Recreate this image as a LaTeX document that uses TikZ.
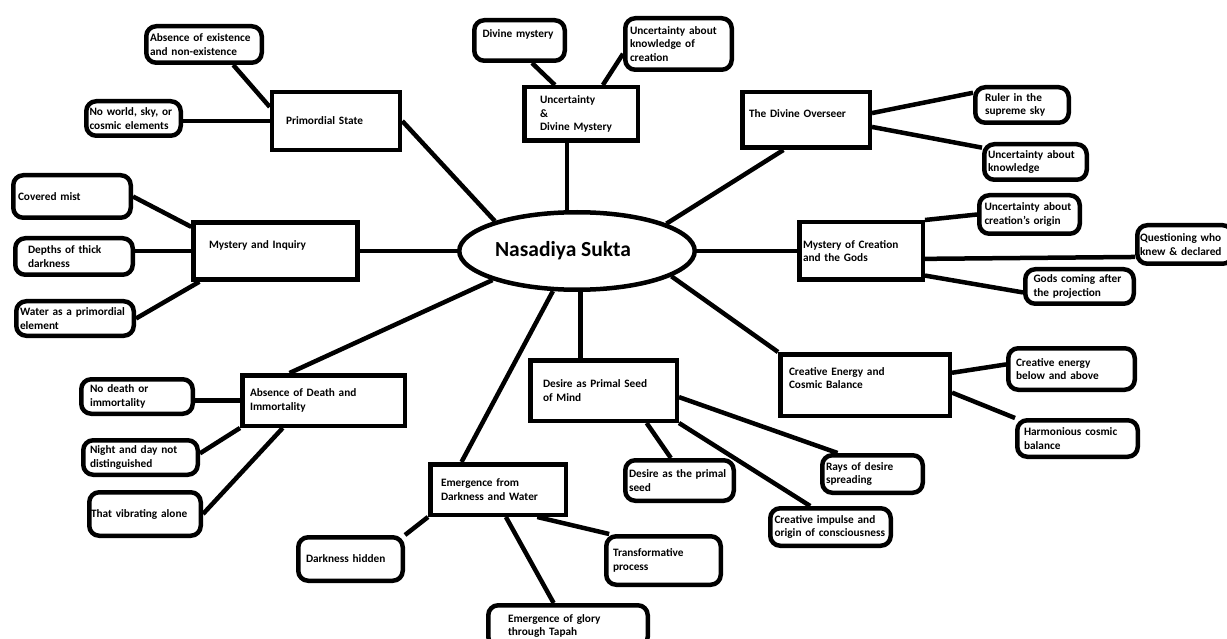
\documentclass[tikz,border=0pt]{standalone}
\usepackage{fontspec}
\setmainfont{Carlito}
\usetikzlibrary{shapes.geometric,calc}
\tikzset{
  mainbox/.style={draw, line width=4.5pt, align=left, inner xsep=0pt, inner ysep=2pt,
    font=\bfseries\fontsize{11.3}{13.7}\selectfont},
  leafbox/.style={mainbox, rounded corners=10pt},
  hub/.style={ellipse, draw, line width=4.5pt, inner sep=0pt,
    font=\bfseries\fontsize{21.5}{24}\selectfont},
  link/.style={line width=4.5pt}
}

\begin{document}
\begin{tikzpicture}[x=1pt,y=-1pt]
        \clip (0,0) rectangle (1227,639);
        \node[hub, minimum width=235.5pt, minimum height=77.5pt] (nas) at (577,251) {Nasadiya Sukta\hspace*{28pt}};
        % main topics
        \node[mainbox, minimum width=128pt, minimum height=58pt, text width=100pt] (prim) at (336,121) {Primordial State};
        \node[mainbox, minimum width=164pt, minimum height=57pt, text width=133pt] (myst) at (275.5,251) {Mystery and Inquiry\\ \mbox{}};
        \node[mainbox, minimum width=113.5pt, minimum height=53.5pt, text width=82pt] (udm) at (581,114) {Uncertainty\\\&\\ Divine Mystery};
        \node[mainbox, minimum width=127.5pt, minimum height=55.5pt, text width=114pt] (dov) at (806,120) {The Divine Overseer\\ \mbox{}};
        \node[mainbox, minimum width=123.5pt, minimum height=57.5pt, text width=116pt] (moc) at (861,251) {Mystery of Creation\\and the Gods};
        \node[mainbox, minimum width=169.5pt, minimum height=61.5pt, text width=152pt] (ceb) at (865,385) {Creative Energy and\\Cosmic Balance\\ \mbox{}};
        \node[mainbox, minimum width=146.5pt, minimum height=60.5pt, text width=121pt] (des) at (603.5,390.5) {Desire as Primal Seed\\of Mind};
        \node[mainbox, minimum width=135.5pt, minimum height=50.5pt, text width=114pt] (emg) at (498,489.5) {Emergence from\\Darkness and Water};
        \node[mainbox, minimum width=162.5pt, minimum height=50.5pt, text width=147pt] (abs) at (323.5,400.5) {Absence of Death and\\Immortality};
        % leaves
        \node[leafbox, minimum width=115.5pt, minimum height=36.5pt, text width=108pt] (nonex) at (204,44.5) {Absence of existence\\and non-existence};
        \node[leafbox, minimum width=94.5pt, minimum height=34.5pt, text width=88pt] (noworld) at (133.5,118.5) {No world, sky, or\\cosmic elements};
        \node[leafbox, minimum width=117.5pt, minimum height=42.5pt, text width=108pt] (mist) at (72,196.5) {Covered mist};
        \node[leafbox, minimum width=117.5pt, minimum height=36.5pt, text width=92pt] (depths) at (74,256.5) {Depths of thick\\darkness};
        \node[leafbox, minimum width=117.5pt, minimum height=34.5pt, text width=110pt] (water) at (75,318.5) {Water as a primordial\\element};
        \node[leafbox, minimum width=90.5pt, minimum height=40.5pt, text width=74pt] (divmys) at (519.5,40.5) {Divine mystery\\ \mbox{}};
        \node[leafbox, minimum width=106.5pt, minimum height=51.5pt, text width=97pt] (knowcre) at (678.5,44) {Uncertainty about\\knowledge of\\creation};
        \node[leafbox, minimum width=93.5pt, minimum height=35.5pt, text width=74pt] (ruler) at (1022,105) {Ruler in the\\supreme sky};
        \node[leafbox, minimum width=102.5pt, minimum height=35.5pt, text width=95pt] (knowl) at (1035.5,162) {Uncertainty about\\knowledge};
        \node[leafbox, minimum width=100.5pt, minimum height=38.5pt, text width=90pt] (origin) at (1029.5,214.5) {Uncertainty about\\creation's origin};
        \node[leafbox, minimum width=95.5pt, minimum height=38.5pt, text width=90pt] (whoknew) at (1185,244.5) {Questioning who\\knew \& declared};
        \node[leafbox, minimum width=108.5pt, minimum height=34.5pt, text width=92pt] (gods) at (1079.5,286.5) {Gods coming after\\the projection};
        \node[leafbox, minimum width=126.5pt, minimum height=41.5pt, text width=111pt] (energy) at (1071.5,369) {Creative energy\\below and above};
        \node[leafbox, minimum width=120.5pt, minimum height=36.5pt, text width=107pt] (harmony) at (1077.5,438.5) {Harmonious cosmic\\balance};
        \node[leafbox, minimum width=100.5pt, minimum height=37.5pt, text width=93pt] (rays) at (872.5,474) {Rays of desire\\spreading};
        \node[leafbox, minimum width=120.5pt, minimum height=37.5pt, text width=112pt] (impulse) at (830.5,527) {Creative impulse and\\origin of consciousness};
        \node[leafbox, minimum width=108.5pt, minimum height=40.5pt, text width=101pt] (seed) at (679.5,480.5) {Desire as the primal\\seed};
        \node[leafbox, minimum width=114.5pt, minimum height=48.5pt, text width=101pt] (transf) at (663.5,560.5) {Transformative\\process};
        \node[leafbox, minimum width=159.5pt, minimum height=41.5pt, text width=120pt] (glory) at (568,626) {Emergence of glory\\through Tapah};
        \node[leafbox, minimum width=104.5pt, minimum height=43.5pt, text width=89pt] (hidden) at (350.5,559) {Darkness hidden};
        \node[leafbox, minimum width=111.5pt, minimum height=43.5pt, text width=108pt] (vibr) at (145,514) {That vibrating alone};
        \node[leafbox, minimum width=114.5pt, minimum height=34.5pt, text width=101pt] (night) at (140.5,457.5) {Night and day not\\distinguished};
        \node[leafbox, minimum width=111.5pt, minimum height=34.5pt, text width=94pt] (nodeath) at (137,396.5) {No death or\\immortality};
        % hub links
        \draw[link] (prim.east) -- (nas.160);
        \draw[link] (myst.east) -- (nas.west);
        \draw[link] (nas.104) -- (nas.104 |- udm.south);
        \draw[link] (nas.17) -- (dov.233);
        \draw[link] (nas.east) -- (moc.west);
        \draw[link] (nas.-15) -- (ceb.north west);
        \draw[link] (nas.-85) -- (nas.-85 |- des.north);
        \draw[link] (nas.-121) -- (emg.143);
        \draw[link] (nas.199) -- (abs.141);
        % leaf links
        \draw[link] (prim.168) -- (nonex.-35);
        \draw[link] (prim.west) -- (prim.west -| noworld.east);
        \draw[link] (myst.164) -- (mist.east);
        \draw[link] (myst.west) -- (myst.west -| depths.east);
        \draw[link] (myst.202) -- (water.east);
        \draw[link] (udm.132) -- (divmys.-61);
        \draw[link] (udm.53) -- (knowcre.190);
        \draw[link] (dov.6) -- (ruler.166);
        \draw[link] (dov.-6) -- (knowl.165);
        \draw[link] (moc.north east) -- (origin.west);
        \draw[link] (moc.-7) -- (whoknew.194);
        \draw[link] (moc.-21) -- (gods.186);
        \draw[link] (ceb.8) -- (energy.176);
        \draw[link] (ceb.-5) -- (harmony.north west);
        \draw[link] (des.-5) -- (rays.149);
        \draw[link] (des.south east) -- (impulse.134);
        \draw[link] (des.-37) -- (seed.111);
        \draw[link] (emg.-35) -- (transf.154);
        \draw[link] (emg.-74) -- (glory.122);
        \draw[link] (emg.south west) -- (hidden.north east);
        \draw[link] (abs.west) -- (abs.west -| nodeath.east);
        \draw[link] (abs.south west) -- (night.4);
        \draw[link] (abs.214) -- (vibr.east);
      \end{tikzpicture}
\end{document}
